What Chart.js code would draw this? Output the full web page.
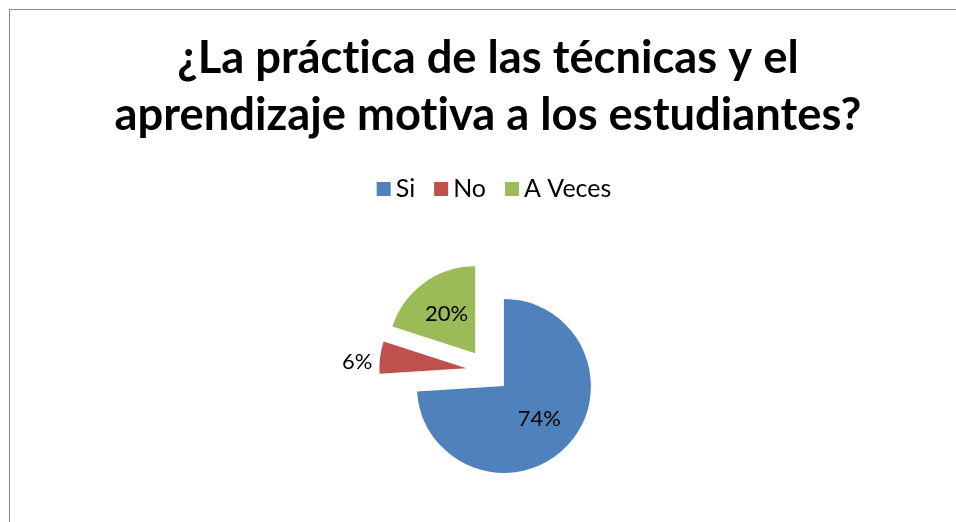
<!DOCTYPE html>
<html>
<head>
<meta charset="utf-8">
<script src="https://cdn.jsdelivr.net/npm/chart.js@4"></script>
<style>
html,body{margin:0;padding:0;background:#fff;overflow:hidden;width:956px;height:522px;}
#frame{position:absolute;left:9px;top:9px;width:1000px;height:600px;border:1px solid #898989;box-sizing:border-box;}
#wrap{position:absolute;left:10px;top:10px;width:956px;height:512px;}
canvas{font-variant-ligatures:none;}
</style>
</head>
<body>
<div id="frame"></div>
<div id="wrap"><canvas id="c" width="956" height="512"></canvas></div>
<script>
// ---- data ----
const categories = ['Si', 'No', 'A Veces'];
const values = [74, 6, 20];
const titleLines = ['¿La práctica de las técnicas y el', 'aprendizaje motiva a los estudiantes?'];
const colors = ['#4F81BD', '#C0504D', '#9BBB59'];

// ---- style constants ----
const FONT = 'Lato';
const RADIUS = 87;
const EXPLODE = 21.8;
const LABEL_SIZE = 22;
const LEGEND_SIZE = 25;
const OUT_DY = 7;

// fit title font to reference width
const mctx = document.createElement('canvas').getContext('2d');
mctx.font = 'bold 48px ' + FONT;
if ('textRendering' in mctx) mctx.textRendering = 'optimizeSpeed';
const tw = mctx.measureText(titleLines[1]).width;
const titleSize = Math.min(48, 48 * 747 / tw);

const total = values.reduce((a, b) => a + b, 0);

const explodePlugin = {
  id: 'explode',
  beforeDraw(chart) {
    const ctx = chart.ctx;
    if ('textRendering' in ctx) ctx.textRendering = 'optimizeSpeed';
  },
  beforeDatasetDraw(chart, args) {
    const ctx = chart.ctx;
    args.meta.data.forEach(arc => {
      const mid = (arc.startAngle + arc.endAngle) / 2;
      ctx.save();
      ctx.translate(Math.cos(mid) * EXPLODE, Math.sin(mid) * EXPLODE);
      arc.draw(ctx);
      ctx.restore();
    });
    return false;
  },
  afterDraw(chart) {
    const ctx = chart.ctx;
    const meta = chart.getDatasetMeta(0);
    // data labels
    ctx.save();
    ctx.font = LABEL_SIZE + 'px ' + FONT;
    ctx.fillStyle = '#000';
    ctx.textAlign = 'center';
    ctx.textBaseline = 'middle';
    meta.data.forEach((arc, i) => {
      const mid = (arc.startAngle + arc.endAngle) / 2;
      const frac = values[i] / total;
      const r = arc.outerRadius;
      const outside = frac < 0.1;
      const dist = outside ? EXPLODE + r + 23 : EXPLODE + r * 0.56;
      const x = arc.x + Math.cos(mid) * dist;
      const y = arc.y + Math.sin(mid) * dist + (outside ? OUT_DY : 0);
      ctx.fillText(Math.round(frac * 100) + '%', x, y);
    });
    ctx.restore();

    // legend
    ctx.save();
    ctx.font = LEGEND_SIZE + 'px ' + FONT;
    ctx.textBaseline = 'alphabetic';
    const box = 14, gapText = 5, gapItem = 19;
    const widths = categories.map(c => ctx.measureText(c).width);
    let totalW = 0;
    widths.forEach((w, i) => { totalW += box + gapText + w + (i < widths.length - 1 ? gapItem : 0); });
    let x = (chart.width / 2 + 6) - totalW / 2;
    const boxTop = 172, baseline = 187;
    categories.forEach((c, i) => {
      ctx.fillStyle = colors[i];
      ctx.fillRect(x, boxTop, box, box);
      ctx.fillStyle = '#000';
      ctx.fillText(c, x + box + gapText, baseline);
      x += box + gapText + widths[i] + gapItem;
    });
    ctx.restore();
  }
};

new Chart(document.getElementById('c'), {
  type: 'pie',
  data: {
    labels: categories,
    datasets: [{
      data: values,
      backgroundColor: colors,
      borderWidth: 0,
      radius: RADIUS
    }]
  },
  options: {
    responsive: false,
    animation: false,
    events: [],
    layout: { padding: { top: 0, bottom: 3.5, left: 0, right: 0 } },
    plugins: {
      legend: { display: false },
      tooltip: { enabled: false },
      title: {
        display: true,
        text: titleLines,
        color: '#000',
        font: { family: FONT, size: titleSize, weight: 'bold', lineHeight: '57px' },
        padding: { top: 19.5, bottom: 80 }
      }
    }
  },
  plugins: [explodePlugin]
});
</script>
</body>
</html>
